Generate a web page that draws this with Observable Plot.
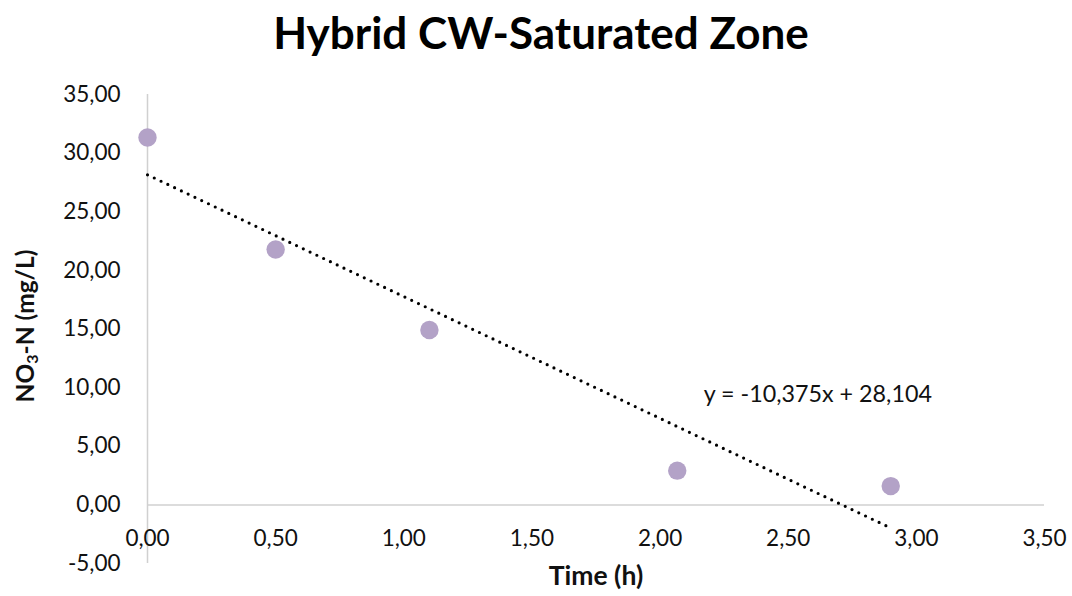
<!DOCTYPE html>
<html><head><meta charset="utf-8">
<script src="https://cdn.jsdelivr.net/npm/d3@7"></script>
<script src="https://cdn.jsdelivr.net/npm/@observablehq/plot@0.6"></script>
<style>
body{margin:0;background:#fff;font-family:Lato, "Open Sans", sans-serif;}
#title{height:70px;line-height:64px;text-align:center;font-weight:bold;font-size:44px;color:#000;padding-left:10px;white-space:nowrap;overflow:hidden;}
</style></head><body>
<div id="title">Hybrid CW-Saturated Zone</div>
<div id="chart"></div>
<script>
const time = [0, 0.5, 1.1, 2.067, 2.9];
const nitrate = [31.33, 21.78, 14.92, 2.92, 1.60];
const xTicks = [0, 0.5, 1, 1.5, 2, 2.5, 3, 3.5];
const yTicks = [-5, 0, 5, 10, 15, 20, 25, 30, 35];
const equationText = "y = -10,375x + 28,104";
const equationAt = [{x: 2.17, y: 9.4}];
const xLabel = "Time (h)";

const data = time.map((t, i) => ({time: t, nitrate: nitrate[i]}));
const fmt = d => d.toFixed(2).replace(".", ",");
const textColor = "#111";
const axisColor = "#d0d0d0";

const chart = Plot.plot({
  width: 1072,
  height: 526,
  marginTop: 24,
  marginBottom: 33,
  marginLeft: 147,
  marginRight: 28,
  style: {fontFamily: "Lato, 'Open Sans', sans-serif", fontSize: "22px", color: textColor, background: "#fff", overflow: "visible"},
  x: {domain: [0, 3.5], axis: null},
  y: {domain: [-5, 35], axis: null},
  marks: [
    Plot.ruleX([0], {stroke: axisColor, strokeWidth: 1.5}),
    Plot.ruleY([0], {stroke: axisColor, strokeWidth: 1.5}),
    Plot.axisY(yTicks, {tickSize: 0, tickPadding: 27, tickFormat: fmt, fontSize: 22.5, fill: textColor, label: null}),
    Plot.text(xTicks, {x: d => d, y: 0, dy: 34, text: d => fmt(d), fontSize: 22.5, fill: textColor}),
    Plot.linearRegressionY(data, {x: "time", y: "nitrate", ci: 0, stroke: "#000", strokeWidth: 3.2, strokeLinecap: "round", strokeDasharray: "0,7.5"}),
    Plot.dot(data, {x: "time", y: "nitrate", r: 9.2, fill: "#b3a2c7", stroke: "none"}),
    Plot.text(equationAt, {x: "x", y: "y", text: () => equationText, textAnchor: "start", fontSize: 23.3, fill: textColor}),
    Plot.text([xLabel], {frameAnchor: "bottom", dy: 21, text: d => d, fontSize: 26.5, fontWeight: "bold", fill: textColor})
  ]
});

// y-axis label with subscript
const svg = d3.select(chart);
const lab = svg.append("text")
  .attr("transform", "translate(28,256) rotate(-90)")
  .attr("text-anchor", "middle")
  .attr("dominant-baseline", "middle")
  .attr("font-size", 24.5)
  .attr("font-weight", "bold")
  .attr("fill", textColor);
lab.append("tspan").text("NO");
lab.append("tspan").attr("font-size", 16).attr("dy", 6).text("3");
lab.append("tspan").attr("dy", -6).text("-N (mg/L)");

document.getElementById("chart").appendChild(chart);
</script>
</body></html>
